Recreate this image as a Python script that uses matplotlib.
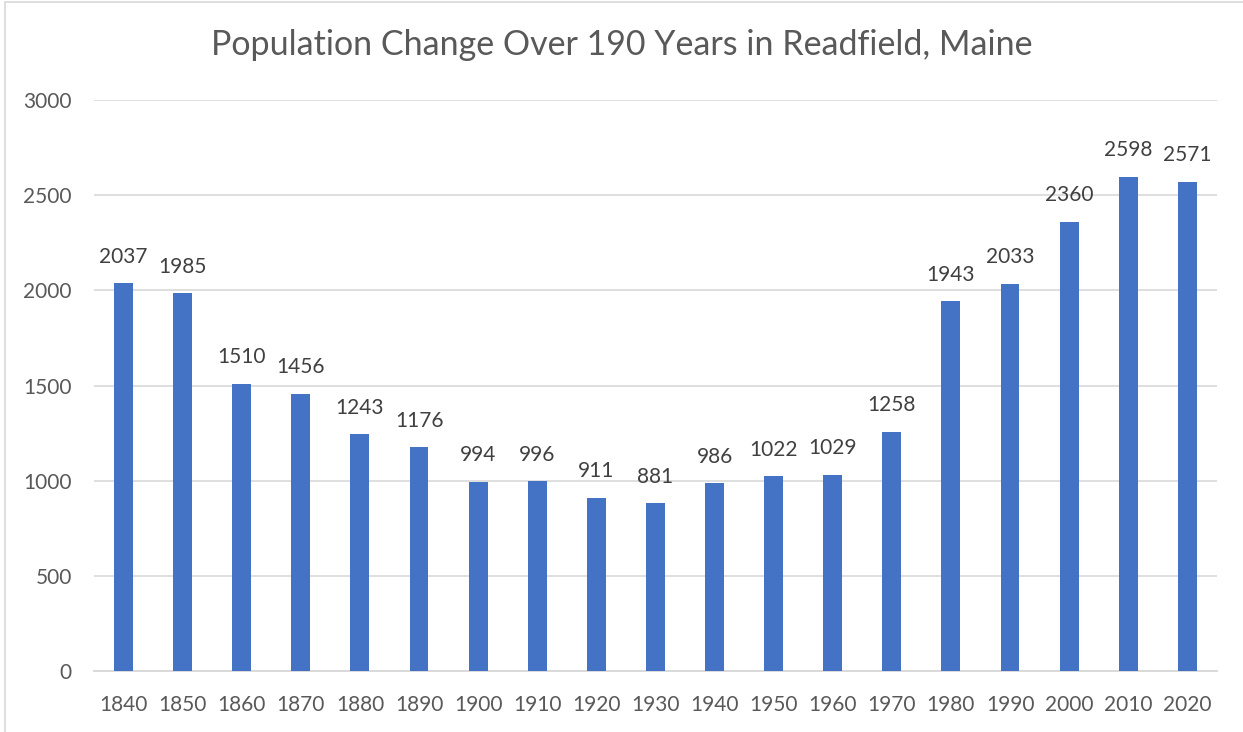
import matplotlib.pyplot as plt
from matplotlib.patches import Rectangle

# --- data ---
years = ["1840", "1850", "1860", "1870", "1880", "1890", "1900", "1910", "1920", "1930",
         "1940", "1950", "1960", "1970", "1980", "1990", "2000", "2010", "2020"]
population = [2037, 1985, 1510, 1456, 1243, 1176, 994, 996, 911, 881,
              986, 1022, 1029, 1258, 1943, 2033, 2360, 2598, 2571]
y_ticks = [0, 500, 1000, 1500, 2000, 2500, 3000]

plt.rcParams['font.family'] = ['Lato', 'DejaVu Sans']

fig = plt.figure(figsize=(12.43, 7.32), dpi=100)
ax = fig.add_axes([0.0756, 0.0833, 0.9034, 0.7801])

# light frame round the chart (cut off at right and bottom like the screenshot)
fig.patches.append(Rectangle((5 / 1243, -0.1), 1.2, 1.1 - 2 / 732, transform=fig.transFigure,
                             fill=False, edgecolor='#D9D9D9', linewidth=1.2))

x = range(len(years))
bars = ax.bar(x, population, width=0.32, color='#4472C4', zorder=3)

for i, v in enumerate(population):
    ax.annotate(str(v), (i, v), xytext=(0, 12), textcoords='offset points',
                ha='center', va='bottom', fontsize=15, color='#404040')

ax.set_xlim(-0.5, len(years) - 0.5)
ax.set_ylim(0, 3000)
ax.set_yticks(y_ticks)
ax.set_xticks(list(x))
ax.set_xticklabels(years)
ax.tick_params(axis='both', length=0, labelsize=15, labelcolor='#595959')
ax.tick_params(axis='y', pad=16)
ax.tick_params(axis='x', pad=17)
ax.grid(axis='y', color='#D9D9D9', linewidth=1.2, zorder=0)
for side in ['top', 'right', 'left']:
    ax.spines[side].set_visible(False)
ax.spines['bottom'].set_color('#D9D9D9')
ax.spines['bottom'].set_linewidth(1.4)

fig.text(0.5, 1 - 45 / 732, "Population Change Over 190 Years in Readfield, Maine",
         ha='center', va='center', fontsize=24.5, color='#595959')

fig.savefig("out.png", dpi=100)
